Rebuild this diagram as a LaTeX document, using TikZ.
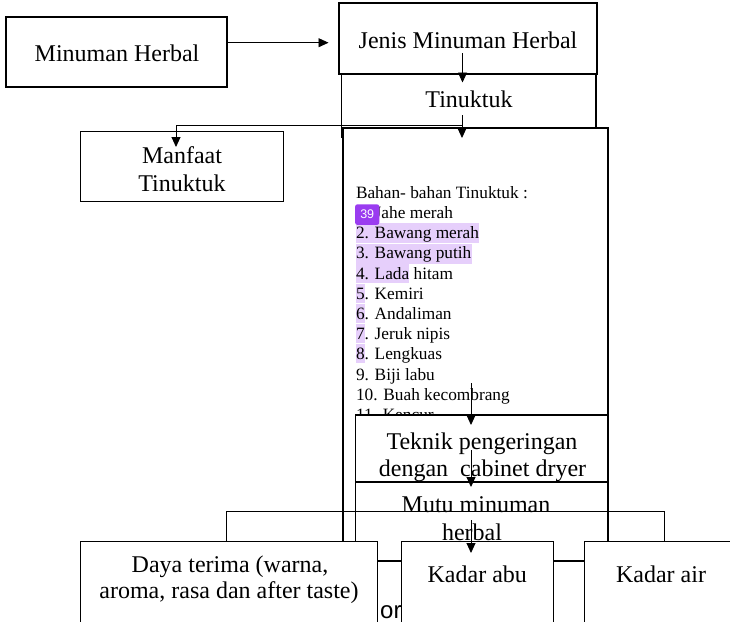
\documentclass[tikz,border=0pt]{standalone}
\usepackage{fontspec}
\setmainfont{Liberation Serif}
\setsansfont{Liberation Sans}
\usetikzlibrary{arrows.meta}
\definecolor{hl}{HTML}{E6CFFB}
\definecolor{badge}{HTML}{9A3CF0}
\begin{document}
\begin{tikzpicture}[x=1pt,y=-1pt,
  box/.style={draw=black,line width=1.2pt,fill=white,inner sep=0pt,outer sep=0pt,rectangle},
  txt/.style={inner sep=0pt,outer sep=0pt,anchor=base,font=\fontsize{24}{28}\selectfont},
  lst/.style={inner sep=0pt,outer sep=0pt,anchor=base west,font=\fontsize{17.3}{20}\selectfont},
  conn/.style={draw=black,line width=0.9pt},
  arr/.style={conn,-{Triangle[length=10pt,width=9pt]}}]
\useasboundingbox (0,0) rectangle (730,621);
\clip (0,0) rectangle (730,621);
\fill[white] (0,0) rectangle (730,621);
% top boxes
\node[box,minimum width=221pt,minimum height=70pt] (mh) at (116.5,52) {};
\node[txt] (mht) at (117,61) {Minuman Herbal};
\node[box,minimum width=258pt,minimum height=71pt] (jenis) at (468,38.5) {};
\node[txt] (jenist) at (468,48) {Jenis Minuman Herbal};
\node[box,minimum width=254.5pt,minimum height=63pt] (tin) at (468.75,105.5) {};
\node[txt] (tint) at (469,107) {Tinuktuk};
\node[box,minimum width=202.6pt,minimum height=70pt] (manf) at (182,166.7) {};
\node[txt] (manf1) at (182,163) {Manfaat};
\node[txt] (manf2) at (182,191.5) {Tinuktuk};
% big list box
\node[box,line width=1.5pt,minimum width=265pt,minimum height=413.7pt] (big) at (475.5,334.85) {};
\fill[hl] (356,223) rectangle (479,243);
\fill[hl] (356,244) rectangle (471.7,263.7);
\fill[hl] (356,264) rectangle (409,283);
\fill[hl] (356,284) rectangle (365,303);
\fill[hl] (356,304) rectangle (365,323);
\fill[hl] (356,324) rectangle (365,343);
\fill[hl] (356,344) rectangle (365,363);
\node[lst] (l0) at (356,198.3) {Bahan- bahan Tinuktuk :};
\node[lst] (l1) at (356,218.5) {1. Jahe merah};
\node[lst] (l2) at (356,238.7) {2. Bawang merah};
\node[lst] (l3) at (356,258.9) {3. Bawang putih};
\node[lst] (l4) at (356,279.1) {4. Lada hitam};
\node[lst] (l5) at (356,299.3) {5. Kemiri};
\node[lst] (l6) at (356,319.5) {6. Andaliman};
\node[lst] (l7) at (356,339.7) {7. Jeruk nipis};
\node[lst] (l8) at (356,359.9) {8. Lengkuas};
\node[lst] (l9) at (356,380.1) {9. Biji labu};
\node[lst] (l10) at (356,400.3) {10. Buah kecombrang};
\node[lst] (l11) at (356,420.5) {11. Kencur};
\node[fill=badge,rounded corners=2.5pt,minimum width=24.3pt,minimum height=20.7pt,inner sep=0pt,
  text=white,font=\sffamily\fontsize{12.5}{14}\selectfont] (badge) at (367.2,214.6) {39};
% Teknik and Mutu boxes
\node[box,minimum width=252.5pt,minimum height=67pt] (tek) at (481.75,448.5) {};
\node[txt] (tek1) at (482,449) {Teknik pengeringan};
\node[txt] (tek2) at (482.5,476.7) {dengan\ \ cabinet dryer};
\node[box,minimum width=252.5pt,minimum height=79pt] (mutu) at (481.75,521.5) {};
\node[txt] (mutu1) at (476,512) {Mutu minuman};
\node[txt] (mutu2) at (472,540) {herbal};
% connectors
\coordinate (a1s) at (227,42.7); \coordinate (a1e) at (328.5,42.7);
\draw[arr] (a1s) -- (a1e);
\coordinate (a2s) at (462.5,53); \coordinate (a2e) at (462.5,82.5);
\draw[arr] (a2s) -- (a2e);
\coordinate (a3s) at (462,115); \coordinate (a3e) at (462,138);
\draw[arr] (a3s) -- (a3e);
\coordinate (a4s) at (462,125); \coordinate (a4m) at (176,125); \coordinate (a4e) at (176,147);
\draw[arr] (a4s) -- (a4m) -- (a4e);
\coordinate (a5s) at (471,383); \coordinate (a5e) at (471,425);
\draw[arr] (a5s) -- (a5e);
\coordinate (a6s) at (471,450); \coordinate (a6e) at (471,487);
\draw[arr] (a6s) -- (a6e);
\coordinate (b1) at (226.7,541.7); \coordinate (b2) at (226.7,511);
\coordinate (b3) at (664.7,511); \coordinate (b4) at (664.7,541.7);
\draw[conn] (b1) -- (b2) -- (b3) -- (b4);
% bottom boxes
\node[box,minimum width=296.8pt,minimum height=118.3pt] (daya) at (229.1,600.85) {};
\node[txt] (daya1) at (230,572) {Daya terima (warna,};
\node[txt] (daya2) at (229,598) {aroma, rasa dan after taste)};
\node[box,minimum width=151.5pt,minimum height=118.3pt] (abu) at (477.55,600.85) {};
\node[txt] (abut) at (477.3,582.7) {Kadar abu};
\node[box,minimum width=175.5pt,minimum height=118.3pt] (air) at (672.25,600.85) {};
\node[txt] (airt) at (661,582.7) {Kadar air};
\coordinate (a7s) at (471,520); \coordinate (a7e) at (471,553);
\draw[arr] (a7s) -- (a7e);
\node[inner sep=0pt,anchor=base west,font=\sffamily\fontsize{24}{28}\selectfont] (ort) at (380,618.5) {or};
\end{tikzpicture}
\end{document}
